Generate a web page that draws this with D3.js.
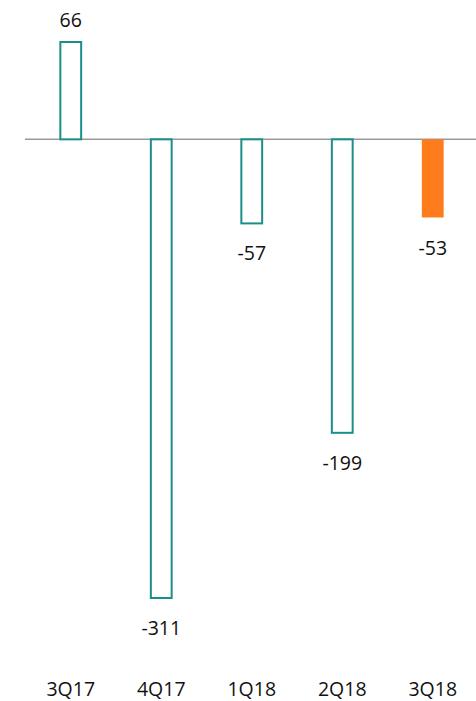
<!DOCTYPE html>
<html><head><meta charset="utf-8">
<script src="https://cdn.jsdelivr.net/npm/d3@7"></script>
<style>body{margin:0;background:#fff;} text{font-family:"Open Sans","Noto Sans",sans-serif;}</style>
</head><body>
<svg id="c" width="476" height="701"></svg>
<script>
const categories = ["3Q17","4Q17","1Q18","2Q18","3Q18"];
const values = [66,-311,-57,-199,-53];
const highlight = [false,false,false,false,true];

const svg = d3.select("#c");
const x = d3.scaleBand().domain(categories).range([25.5,478]).paddingInner(0.77).paddingOuter(0.385);
const y = d3.scaleLinear().domain([-311,66]).range([598,42]);

svg.append("line").attr("x1",25).attr("x2",476).attr("y1",y(0)).attr("y2",y(0))
  .attr("stroke","#9a9a9a").attr("stroke-width",1.5);

const data = categories.map((c,i)=>({c,v:values[i],h:highlight[i]}));
svg.selectAll("rect.bar").data(data).enter().append("rect")
  .attr("x",d=>d.h? x(d.c)-0.5 : x(d.c))
  .attr("width",d=>d.h? x.bandwidth()+1 : x.bandwidth())
  .attr("y",d=>Math.min(y(d.v),y(0)))
  .attr("height",d=>Math.abs(y(d.v)-y(0)))
  .attr("fill",d=>d.h?"#ff7c1c":"#fff")
  .attr("stroke",d=>d.h?"none":"#1a8f88")
  .attr("stroke-width",2);

svg.selectAll("text.val").data(data).enter().append("text")
  .attr("x",d=>x(d.c)+x.bandwidth()/2)
  .attr("y",d=>d.v>=0? y(d.v)-15 : y(d.v)+37)
  .attr("text-anchor","middle").attr("font-size",19.5).attr("fill","#111")
  .text(d=>d.v);

svg.selectAll("text.cat").data(categories).enter().append("text")
  .attr("x",d=>x(d)+x.bandwidth()/2).attr("y",696)
  .attr("text-anchor","middle").attr("font-size",19.5).attr("fill","#111")
  .text(d=>d);
</script>
</body></html>
